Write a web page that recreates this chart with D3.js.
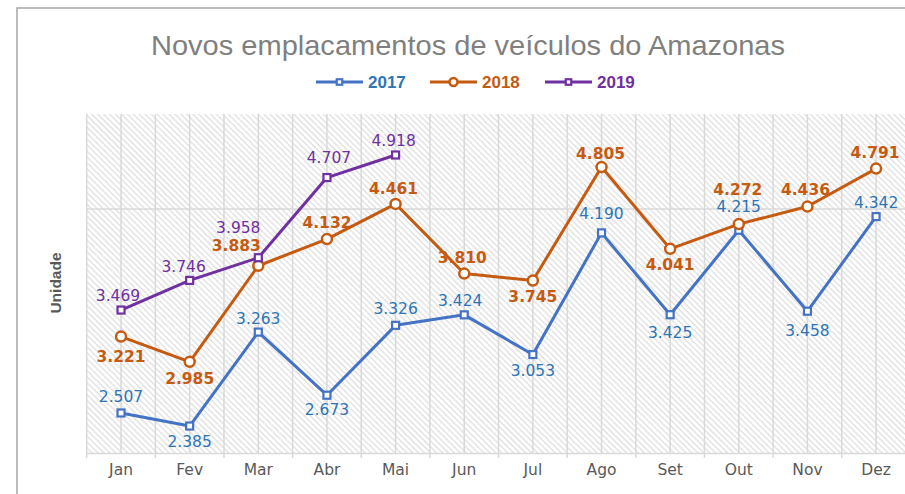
<!DOCTYPE html>
<html><head><meta charset="utf-8">
<script src="https://cdn.jsdelivr.net/npm/d3@7"></script>
<style>
html,body{margin:0;padding:0;background:#fff;overflow:hidden}
svg{display:block}
</style></head>
<body>
<svg id="chart" width="905" height="494"></svg>
<script>
// ---- data ----
const months = ["Jan","Fev","Mar","Abr","Mai","Jun","Jul","Ago","Set","Out","Nov","Dez"];
const values2017 = [2507,2385,3263,2673,3326,3424,3053,4190,3425,4215,3458,4342];
const values2018 = [3221,2985,3883,4132,4461,3810,3745,4805,4041,4272,4436,4791];
const values2019 = [3469,3746,3958,4707,4918];
const seriesNames = ["2017","2018","2019"];
const yDomain = [2133, 5301];
const yGridValues = [4413];

// label placement (layout, not data)
const labelOffsets2017 = [[0,-17],[0,15],[0,-14],[0,14],[0,-17],[-4,-14],[0,16],[0,-19],[0,18],[0,-24],[0,19],[0,-14]];
const labelOffsets2018 = [[0,20],[0,17],[-22,-20],[0,-17],[-2,-15],[-2,-16],[0,16],[-1,-14],[0,16],[-1,-35],[-2,-17],[-1,-16]];
const labelOffsets2019 = [[-3,-15],[-6,-14],[-20,-30],[2,-20],[-2,-15]];

const svg = d3.select("#chart");
const W = 905, H = 494;
const plot = {left: 86.7, right: 910.4, top: 114, bottom: 453};

const loc = d3.formatLocale({decimal: ",", thousands: ".", grouping: [3], currency: ["R$", ""]});
const fmt = loc.format(",d");

const x = d3.scaleBand().domain(months).range([plot.left, plot.right]).padding(0);
const cx = m => x(m) + x.bandwidth() / 2;
const y = d3.scaleLinear().domain(yDomain).range([plot.bottom, plot.top]);

// defs: hatch pattern
const defs = svg.append("defs");
const pat = defs.append("pattern").attr("id","hatch").attr("patternUnits","userSpaceOnUse")
  .attr("width",4.2).attr("height",4.2).attr("patternTransform","rotate(-45)");
pat.append("rect").attr("width",4.2).attr("height",4.2).attr("fill","#ffffff");
pat.append("line").attr("x1",1).attr("y1",0).attr("x2",1).attr("y2",4.2)
  .attr("stroke","#dadada").attr("stroke-width",1.1);

// chart frame
svg.append("rect").attr("x",17).attr("y",8).attr("width",W).attr("height",H)
  .attr("fill","#fff").attr("stroke","#a6a6a6").attr("stroke-width",1.5);

// plot background
svg.append("rect").attr("x",plot.left).attr("y",plot.top)
  .attr("width",plot.right-plot.left).attr("height",plot.bottom-plot.top)
  .attr("fill","url(#hatch)");

// vertical gridlines at category centers
svg.append("g").selectAll("line").data(months).join("line")
  .attr("x1",d=>cx(d)).attr("x2",d=>cx(d)).attr("y1",plot.top).attr("y2",plot.bottom)
  .attr("stroke","#d9d9d9").attr("stroke-width",1.5);
// category boundaries (with ticks)
const bounds = months.map(m => x(m)).concat([plot.right]);
svg.append("g").selectAll("line").data(bounds).join("line")
  .attr("x1",d=>d).attr("x2",d=>d).attr("y1",plot.top).attr("y2",plot.bottom+5)
  .attr("stroke","#d9d9d9").attr("stroke-width",1.5);

// horizontal gridlines
svg.append("g").selectAll("line").data(yGridValues).join("line")
  .attr("x1",plot.left).attr("x2",plot.right).attr("y1",d=>y(d)).attr("y2",d=>y(d))
  .attr("stroke","#d9d9d9").attr("stroke-width",1.5);

// x axis
const xAxis = d3.axisBottom(x).tickSize(0).tickPadding(9);
const gx = svg.append("g").attr("transform",`translate(0,${plot.bottom})`).call(xAxis);
gx.select(".domain").attr("stroke","#d9d9d9").attr("stroke-width",1.5);
gx.selectAll("text").attr("font-family","'DejaVu Sans', Verdana, sans-serif")
  .attr("font-size","15.5px").attr("fill","#595959").attr("dy","0.85em");

// title
svg.append("text").attr("x",468).attr("y",55).attr("text-anchor","middle")
  .attr("font-family","'Liberation Sans', Arial, sans-serif").attr("font-size","28px")
  .attr("fill","#7f7f7f").attr("textLength",634).attr("lengthAdjust","spacingAndGlyphs")
  .text("Novos emplacamentos de veículos do Amazonas");

// y axis title
svg.append("text").attr("transform","translate(61,283) rotate(-90)").attr("text-anchor","middle")
  .attr("font-family","'Liberation Sans', Arial, sans-serif").attr("font-size","15.5px")
  .attr("font-weight","bold").attr("fill","#595959").text("Unidade");

const series = [
  {name: seriesNames[0], values: values2017, color:"#4472C4", label:"#2E75B6", marker:"square", bold:false, offsets: labelOffsets2017},
  {name: seriesNames[1], values: values2018, color:"#C55A11", label:"#C55A11", marker:"circle", bold:true, offsets: labelOffsets2018},
  {name: seriesNames[2], values: values2019, color:"#7030A0", label:"#7030A0", marker:"square", bold:false, offsets: labelOffsets2019}
];

const line = d3.line().x(d=>cx(d.m)).y(d=>y(d.v));

function drawMarker(g, type, color, px, py, legend) {
  if (type === "circle") {
    g.append("circle").attr("cx",px).attr("cy",py).attr("r",legend?4:5)
      .attr("fill","#fff").attr("stroke",color).attr("stroke-width",2.5);
  } else {
    const s = legend?5.5:7;
    g.append("rect").attr("x",px-s/2).attr("y",py-s/2).attr("width",s).attr("height",s)
      .attr("fill","#fff").attr("stroke",color).attr("stroke-width",2.2);
  }
}

series.forEach(s => {
  const pts = s.values.map((v,i)=>({m: months[i], v}));
  const g = svg.append("g");
  g.append("path").datum(pts).attr("d",line).attr("fill","none")
    .attr("stroke",s.color).attr("stroke-width",3).attr("stroke-linejoin","round");
  pts.forEach(p => drawMarker(g, s.marker, s.color, cx(p.m), y(p.v), false));
});

// labels on top
series.forEach(s => {
  const g = svg.append("g");
  s.values.forEach((v,i) => {
    const o = s.offsets[i];
    g.append("text").attr("x", cx(months[i]) + o[0]).attr("y", y(v) + o[1])
      .attr("dy","0.36em").attr("text-anchor","middle")
      .attr("font-family","'DejaVu Sans', Verdana, sans-serif").attr("font-size","15.5px")
      .attr("font-weight", s.bold ? "bold" : "normal")
      .attr("fill", s.label).text(fmt(v));
  });
});

// legend
const legendX = [316, 430, 545];
series.forEach((s,i) => {
  const g = svg.append("g");
  const lx = legendX[i], ly = 82;
  g.append("line").attr("x1",lx).attr("x2",lx+47).attr("y1",ly).attr("y2",ly)
    .attr("stroke",s.color).attr("stroke-width",3);
  drawMarker(g, s.marker, s.color, lx+23.5, ly, true);
  g.append("text").attr("x",lx+52).attr("y",ly).attr("dy","0.36em")
    .attr("font-family","'Liberation Sans', Arial, sans-serif").attr("font-size","17px")
    .attr("font-weight","bold").attr("fill", i===0 ? "#2E75B6" : s.color).text(s.name);
});
</script>
</body></html>
